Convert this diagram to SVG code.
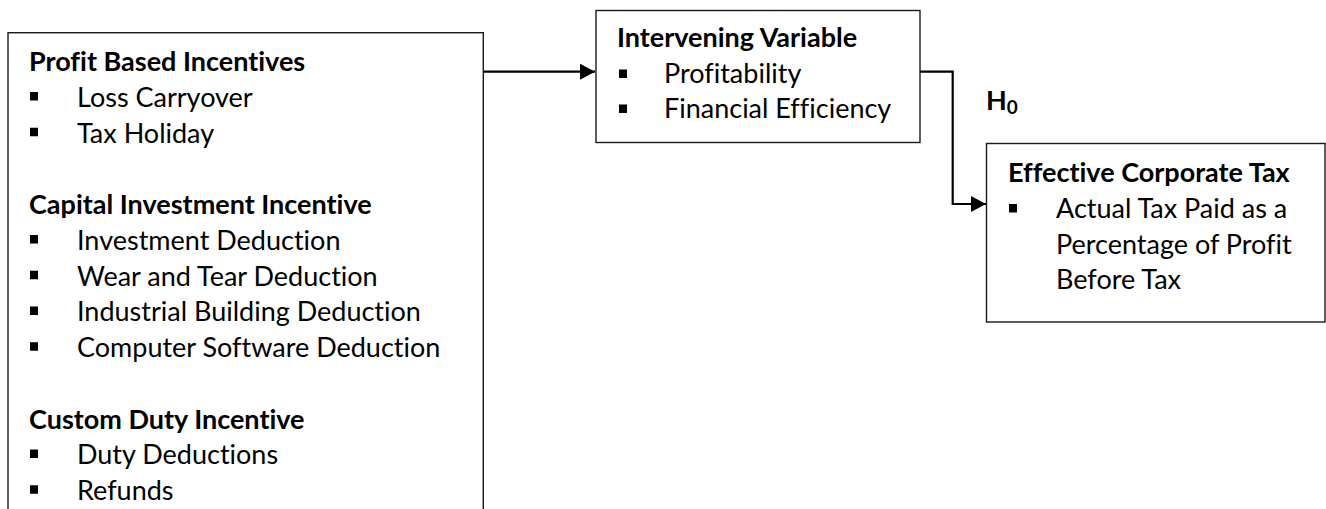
<svg xmlns="http://www.w3.org/2000/svg" width="1326" height="509" viewBox="0 0 1326 509">
<style>
  .box { fill: #ffffff; stroke: #1a1a1a; stroke-width: 1.4; }
  .h { font-family: Lato, "Liberation Sans", sans-serif; font-weight: bold; font-size: 27px; fill: #000; font-variant-ligatures: none; font-feature-settings: "liga" 0; }
  .t { font-family: Lato, "Liberation Sans", sans-serif; font-size: 27px; fill: #000; font-variant-ligatures: none; font-feature-settings: "liga" 0; }
  .b { fill: #000; }
  .conn { fill: none; stroke: #000; stroke-width: 2.2; }
</style>
<defs>
  <marker id="arrow" markerUnits="userSpaceOnUse" markerWidth="16" markerHeight="16" refX="15" refY="8" orient="auto">
    <path d="M0,0 L15,8 L0,16 Z" fill="#000"/>
  </marker>
</defs>
<rect width="1326" height="509" fill="#ffffff"/>

<g id="connectors">
  <path class="conn" d="M483.5,71.7 H595" marker-end="url(#arrow)"/>
  <path class="conn" d="M920,71.7 H952.7 V204 H986" marker-end="url(#arrow)"/>
</g>

<g id="node-independent">
  <rect class="box" x="8" y="32.7" width="475.3" height="500"/>
  <text class="h" x="29" y="71">Profit Based Incentives</text>
  <rect class="b" x="30" y="92" width="8" height="8.5"/>
  <text class="t" x="77" y="106.75">Loss Carryover</text>
  <rect class="b" x="30" y="127.75" width="8" height="8.5"/>
  <text class="t" x="77" y="142.5">Tax Holiday</text>
  <text class="h" x="29" y="214">Capital Investment Incentive</text>
  <rect class="b" x="30" y="235" width="8" height="8.5"/>
  <text class="t" x="77" y="249.75">Investment Deduction</text>
  <rect class="b" x="30" y="270.75" width="8" height="8.5"/>
  <text class="t" x="77" y="285.5">Wear and Tear Deduction</text>
  <rect class="b" x="30" y="306.5" width="8" height="8.5"/>
  <text class="t" x="77" y="321.25">Industrial Building Deduction</text>
  <rect class="b" x="30" y="342.25" width="8" height="8.5"/>
  <text class="t" x="77" y="357">Computer Software Deduction</text>
  <text class="h" x="29" y="428.5">Custom Duty Incentive</text>
  <rect class="b" x="30" y="449.5" width="8" height="8.5"/>
  <text class="t" x="77" y="464.25">Duty Deductions</text>
  <rect class="b" x="30" y="485.25" width="8" height="8.5"/>
  <text class="t" x="77" y="500">Refunds</text>
</g>

<g id="node-intervening">
  <rect class="box" x="596" y="10.5" width="324" height="132"/>
  <text class="h" x="617" y="47">Intervening Variable</text>
  <rect class="b" x="619" y="69.5" width="8" height="8.5"/>
  <text class="t" x="664" y="83">Profitability</text>
  <rect class="b" x="619" y="104.5" width="8" height="8.5"/>
  <text class="t" x="664" y="118">Financial Efficiency</text>
</g>

<g id="node-dependent">
  <rect class="box" x="986.5" y="143.5" width="338.5" height="178.5"/>
  <text class="h" x="1008" y="182">Effective Corporate Tax</text>
  <rect class="b" x="1009" y="204" width="8" height="8.5"/>
  <text class="t" x="1056" y="218">Actual Tax Paid as a</text>
  <text class="t" x="1056" y="254">Percentage of Profit</text>
  <text class="t" x="1056" y="289">Before Tax</text>
</g>

<g id="label-h0">
  <text class="h" x="986" y="110">H<tspan font-size="19px" dy="4">0</tspan></text>
</g>
</svg>
